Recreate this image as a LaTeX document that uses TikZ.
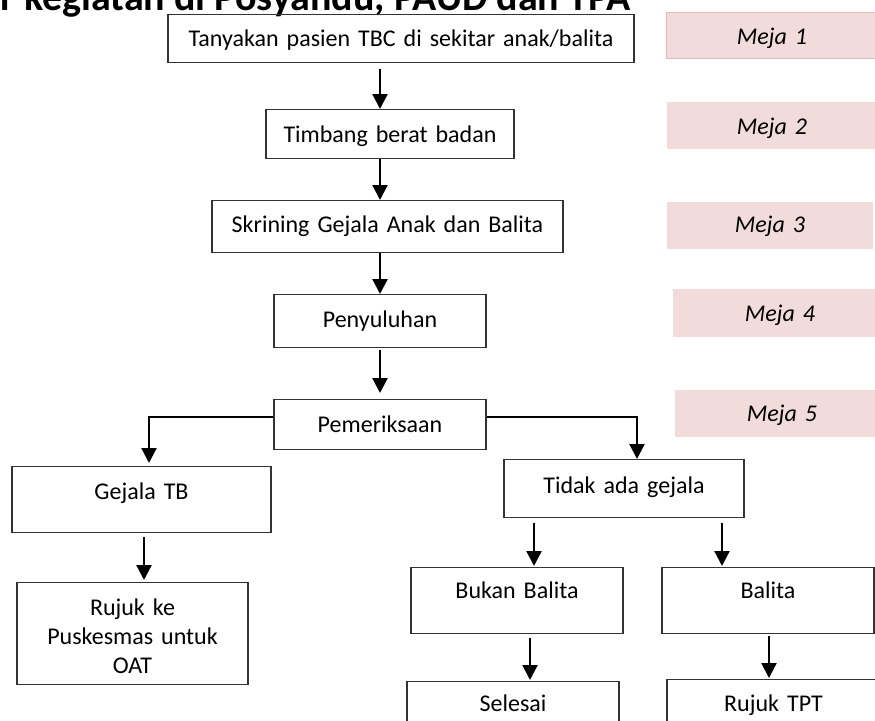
\documentclass[tikz,border=0pt]{standalone}
\usepackage{fontspec}
\setmainfont{Carlito}
\usetikzlibrary{arrows.meta}
\definecolor{mejafill}{HTML}{F2DCDB}
\definecolor{mejaline}{HTML}{E6B9B8}
\definecolor{boxline}{HTML}{333333}
\tikzset{
  fbox/.style={draw=boxline, line width=1.4pt, inner sep=0pt, align=center,
    font=\fontsize{24}{29}\selectfont, anchor=north},
  mejabox/.style={fill=mejafill, inner sep=0pt, align=center,
    font=\fontsize{24}{29}\selectfont\itshape, anchor=north},
  arr/.style={draw=black, line width=2.2pt, -{Triangle[length=15pt,width=15pt]}},
}
\begin{document}
\begin{tikzpicture}[x=1pt,y=-1pt]
\useasboundingbox (0,0) rectangle (875,720);
\clip (0,0) rectangle (875,720);

% title (clipped at the top and left, as in the reference)
\node[font=\bfseries\fontsize{40}{48}\selectfont, anchor=base east, inner sep=0pt] (title) at (631,10) {Alur kegiatan di Posyandu, PAUD dan TPA};

% main flow boxes
\node[fbox, text width=466pt, text height=32pt, text depth=16pt] (b1) at (401,14) {Tanyakan pasien TBC di sekitar anak/balita};
\node[fbox, text width=248pt, text height=33pt, text depth=16pt] (b2) at (390,109) {Timbang berat badan};
\node[fbox, text width=351pt, text height=32pt, text depth=20pt] (b3) at (387.5,200) {Skrining Gejala Anak dan Balita};
\node[fbox, text width=212pt, text height=33pt, text depth=20pt] (b4) at (380,294) {Penyuluhan};
\node[fbox, text width=212pt, text height=33pt, text depth=17pt] (b5) at (380,399) {Pemeriksaan};
\node[fbox, text width=259pt, text height=33pt, text depth=33pt] (gej) at (141.5,466) {Gejala TB};
\node[fbox, text width=240pt, text height=34pt, text depth=24pt] (tid) at (624,459) {Tidak ada gejala};
\node[fbox, text width=231pt, text height=33pt, text depth=69pt] (ruj) at (132.5,582) {Rujuk ke\\Puskesmas untuk\\OAT};
\node[fbox, text width=212pt, text height=31pt, text depth=35pt] (buk) at (517,567) {Bukan Balita};
\node[fbox, text width=212pt, text height=31pt, text depth=35pt] (bal) at (768,567) {Balita};
\node[fbox, text width=212pt, text height=30pt, text depth=40pt] (sel) at (513,681) {Selesai};
\node[fbox, text width=213pt, text height=32pt, text depth=40pt] (tpt) at (773.5,679) {Rujuk TPT};

% meja labels
\node[mejabox, draw=mejaline, line width=1pt, text width=212pt, text height=32pt, text depth=14pt] (m1) at (772,12) {Meja 1};
\node[mejabox, text width=210pt, text height=32pt, text depth=15pt] (m2) at (772,102) {Meja 2};
\node[mejabox, text width=206pt, text height=30pt, text depth=17pt] (m3) at (770,202) {Meja 3};
\node[mejabox, text width=214pt, text height=32pt, text depth=16pt] (m4) at (780,289) {Meja 4};
\node[mejabox, text width=214pt, text height=31pt, text depth=16pt] (m5) at (782,390) {Meja 5};

% column / row helpers
\coordinate (xm) at (380,0);
\coordinate (yb) at (0,417);
\coordinate (xl) at (149,0);
\coordinate (xr) at (637,0);
\coordinate (xg) at (144,0);
\coordinate (xt1) at (534,0);
\coordinate (xt2) at (722,0);
\coordinate (xs) at (530,0);
\coordinate (xp) at (769,0);

% connectors
\draw[arr, shorten <=6pt] (b1.south -| xm) -- (b2.north -| xm);
\draw[arr] (b2.south -| xm) -- (b3.north -| xm);
\draw[arr] (b3.south -| xm) -- (b4.north -| xm);
\draw[arr, shorten <=2pt, shorten >=6pt] (b4.south -| xm) -- (b5.north -| xm);
\draw[arr, shorten >=3pt] (b5.west |- yb) -| (gej.north -| xl);
\draw[arr] (b5.east |- yb) -| (tid.north -| xr);
\draw[arr, shorten <=4pt, shorten >=2pt] (gej.south -| xg) -- (ruj.north -| xg);
\draw[arr, shorten <=5pt, shorten >=1pt] (tid.south -| xt1) -- (buk.north -| xt1);
\draw[arr, shorten <=5pt, shorten >=1pt] (tid.south -| xt2) -- (bal.north -| xt2);
\draw[arr, shorten <=4pt, shorten >=1pt] (buk.south -| xs) -- (sel.north -| xs);
\draw[arr, shorten <=2pt, shorten >=1pt] (bal.south -| xp) -- (tpt.north -| xp);
\end{tikzpicture}
\end{document}
